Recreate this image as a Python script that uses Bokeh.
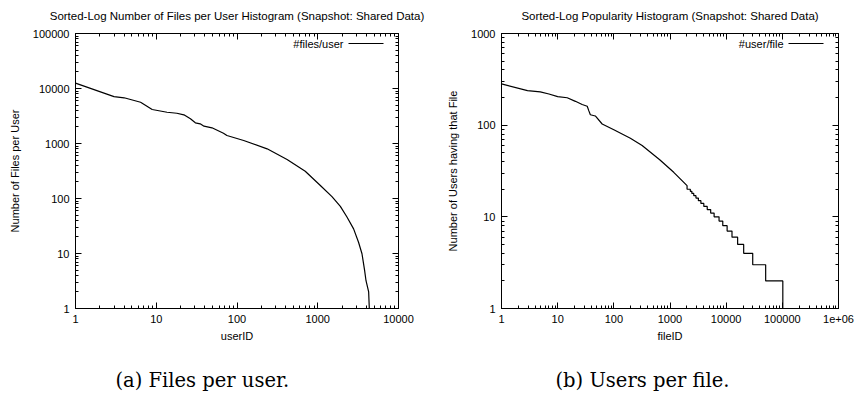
from bokeh.plotting import figure
from bokeh.layouts import row, column
from bokeh.models import (LogAxis, FixedTicker, Label, Arrow, ColumnDataSource)
from bokeh.embed import file_html
from bokeh.resources import INLINE

# ---------------- data ----------------
# (a) sorted number of files per user (rank -> files)
user_rank = [1, 3, 4, 6.4, 8.9, 13.6, 18, 22, 26.5, 30.5, 35, 39, 49, 68, 75,
             121, 236, 417, 700, 1077, 1500, 1905, 2300, 2780, 3200, 3530,
             3800, 3960, 4270, 4350]
files_per_user = [12500, 7100, 6780, 5620, 4150, 3700, 3550, 3320, 2810, 2380,
                  2280, 2065, 1930, 1540, 1400, 1135, 800, 513, 313, 172, 108,
                  72, 46, 28, 16, 9.9, 5, 3.2, 2, 1]

# (b) sorted popularity (rank -> users having that file), continuous part
file_rank = [1, 2.9, 4.9, 7, 10, 14.8, 20.7, 27.3, 33.6, 35.8, 38.2, 46.8, 62,
             100, 197, 319, 656, 1165, 2013]
users_per_file = [282, 238, 231, 219, 205, 199, 182, 168, 161, 144, 130, 126,
                  103, 89, 72, 60, 42, 30.6, 21.9]
# integer plateau part: level and last rank having that level
step_levels = [20, 19, 18, 17, 16, 15, 14, 13, 12, 11, 10, 9, 8, 7, 6, 5, 4, 3, 2]
step_last_rank = [2300, 2450, 2650, 2900, 3200, 3550, 4000, 4600, 5300, 6100,
                  7470, 8700, 10400, 12700, 16000, 20500, 29700, 50500, 102000]
bottom_level = 1

user_ticks = [1, 10, 100, 1000, 10000]
user_tick_labels = ["1", "10", "100", "1000", "10000"]
files_ticks = [1, 10, 100, 1000, 10000, 100000]
files_tick_labels = ["1", "10", "100", "1000", "10000", "100000"]
file_ticks = [1, 10, 100, 1000, 10000, 100000, 1000000]
file_tick_labels = ["1", "10", "100", "1000", "10000", "100000", "1e+06"]
users_ticks = [1, 10, 100, 1000]
users_tick_labels = ["1", "10", "100", "1000"]

titles = ["Sorted-Log Number of Files per User Histogram (Snapshot: Shared Data)",
          "Sorted-Log Popularity Histogram (Snapshot: Shared Data)"]
xlabels = ["userID", "fileID"]
ylabels = ["Number of Files per User", "Number of Users having that File"]
legends = ["#files/user", "#user/file"]
captions = ["(a) Files per user.", "(b) Users per file."]

SANS = "Liberation Sans"
SERIF = "DejaVu Serif"


def minors(majors):
    out = []
    for m in majors[:-1]:
        out += [m * k for k in range(2, 10)]
    return out


def style_axis(ax, majors, labels, show_labels=True, axis_label=None, label_standoff=9):
    ax.ticker = FixedTicker(ticks=majors, minor_ticks=minors(majors))
    ax.major_tick_in = 6
    ax.major_tick_out = 0
    ax.minor_tick_in = 3
    ax.minor_tick_out = 0
    ax.axis_line_color = "black"
    ax.major_tick_line_color = "black"
    ax.minor_tick_line_color = "black"
    if show_labels:
        ax.major_label_overrides = {m: l for m, l in zip(majors, labels)}
        ax.major_label_text_font = SANS
        ax.major_label_text_font_size = "11px"
        ax.major_label_text_color = "black"
        ax.major_label_standoff = 6
        ax.axis_label = axis_label
        ax.axis_label_text_font = SANS
        ax.axis_label_text_font_size = "11px"
        ax.axis_label_text_font_style = "normal"
        ax.axis_label_text_color = "black"
        ax.axis_label_standoff = label_standoff
    else:
        ax.major_label_text_font_size = "0px"
        ax.major_label_text_color = None
        ax.major_label_standoff = 0
        ax.axis_label = None


def make_plot(xs, ys, xr, yr, xt, xtl, yt, ytl, idx, width, bl, br, legend_text_x):
    p = figure(width=width, height=320, x_axis_type="log", y_axis_type="log",
               x_range=xr, y_range=yr, output_backend="svg",
               toolbar_location=None, min_border_left=bl, min_border_right=br,
               min_border_top=5, min_border_bottom=40)
    p.grid.visible = False
    p.outline_line_color = "black"
    p.background_fill_color = "white"
    p.border_fill_color = "white"
    style_axis(p.xaxis[0], xt, xtl, True, xlabels[idx], 4)
    style_axis(p.yaxis[0], yt, ytl, True, ylabels[idx], 9)
    top = LogAxis()
    style_axis(top, xt, xtl, False)
    p.add_layout(top, "above")
    right = LogAxis()
    style_axis(right, yt, ytl, False)
    p.add_layout(right, "right")

    src = ColumnDataSource(dict(x=xs, y=ys))
    p.line("x", "y", source=src, line_color="black", line_width=1.2)

    # gnuplot style key (text then sample line)
    p.add_layout(Label(x=legend_text_x, y=265, x_units="screen", y_units="screen",
                       text=legends[idx], text_align="right", text_baseline="middle",
                       text_font=SANS, text_font_size="11px", text_color="black"))
    p.add_layout(Arrow(x_start=legend_text_x + 5, y_start=265,
                       x_end=legend_text_x + 40, y_end=265,
                       start_units="screen", end_units="screen", end=None,
                       line_color="black", line_width=1.2))
    return p


def text_strip(text, width, height, x, y, font, size, align):
    c = figure(width=width, height=height, output_backend="svg", toolbar_location=None,
               min_border=0, x_axis_location=None, y_axis_location=None)
    c.outline_line_color = None
    c.grid.visible = False
    c.background_fill_color = "white"
    c.border_fill_color = "white"
    c.add_layout(Label(x=x, y=y, x_units="screen", y_units="screen",
                       text=text, text_align=align, text_baseline="middle",
                       text_font=font, text_font_size=size, text_color="black"))
    return c


p1 = make_plot(user_rank, files_per_user, (1, 10000), (1, 100000),
               user_ticks, user_tick_labels, files_ticks, files_tick_labels,
               0, 430, 75, 32, 268)

bx = list(file_rank)
by = list(users_per_file)
for lvl, end in zip(step_levels, step_last_rank):
    bx += [bx[-1], end]
    by += [lvl, lvl]
bx.append(bx[-1])
by.append(bottom_level)

p2 = make_plot(bx, by, (1, 1000000), (1, 1000),
               file_ticks, file_tick_labels, users_ticks, users_tick_labels,
               1, 424, 71, 16, 282)

t1 = text_strip(titles[0], 430, 28, 236.5, 13, SANS, "11.5px", "center")
t2 = text_strip(titles[1], 424, 28, 239.5, 13, SANS, "11.5px", "center")
c1 = text_strip(captions[0], 430, 45, 115, 13, SERIF, "19.5px", "left")
c2 = text_strip(captions[1], 424, 45, 125, 13, SERIF, "19.5px", "left")

layout = column(row(t1, t2), row(p1, p2), row(c1, c2))
open("out.html", "w").write(file_html(layout, INLINE))
